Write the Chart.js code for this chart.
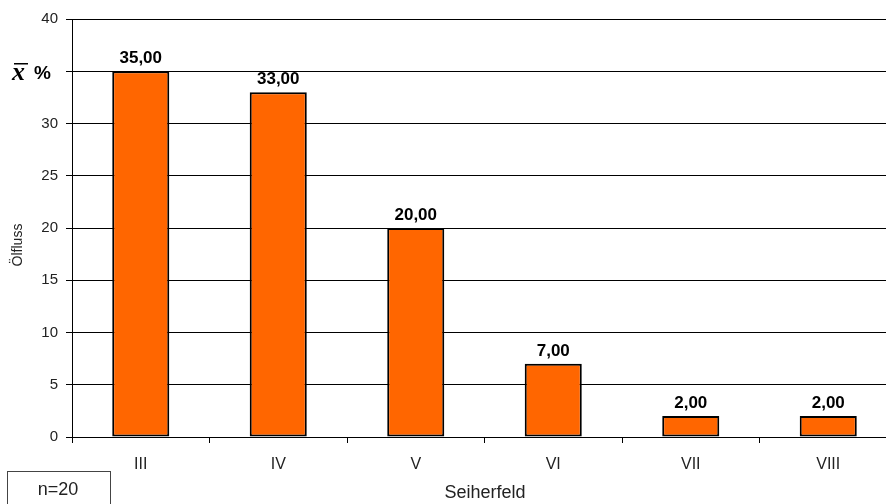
<!DOCTYPE html>
<html lang="de">
<head>
<meta charset="UTF-8">
<title>Ölfluss je Seiherfeld</title>
<script src="https://cdn.jsdelivr.net/npm/chart.js"></script>
<style>
    html, body { margin: 0; padding: 0; background: #fff; overflow: hidden; }
    #wrap { width: 886px; height: 504px; overflow: hidden; }
</style>
</head>
<body>
<div id="wrap"><canvas id="chart" width="898" height="504"></canvas></div>
<script>
// Werte aus der Grafik
const categories = ["III", "IV", "V", "VI", "VII", "VIII"];
const values = [35, 33, 20, 7, 2, 2];
const yTicks = [0, 5, 10, 15, 20, 25, 30, 35, 40];
const yTickLabels = ["0", "5", "10", "15", "20", "25", "30", "", "40"]; // bei 35 steht x-quer %
const sampleNote = "n=20";

const FONT = "'Liberation Sans', Arial, sans-serif";

// Beschriftungen über den Balken, Achsentitel und n-Kasten
const extras = {
    id: "extras",
    afterDatasetsDraw(chart) {
        const ctx = chart.ctx;
        const meta = chart.getDatasetMeta(0);
        ctx.save();
        ctx.fillStyle = "#000";
        ctx.font = "bold 17px " + FONT;
        ctx.textAlign = "center";
        ctx.textBaseline = "alphabetic";
        meta.data.forEach((bar, i) => {
            ctx.fillText(values[i].toFixed(2).replace(".", ","), bar.x, bar.y - 8);
        });

        // x-quer %
        ctx.textAlign = "left";
        ctx.font = "bold italic 26px 'Liberation Serif', serif";
        ctx.fillText("x", 12, 80);
        ctx.fillRect(14, 63, 14, 1.5);
        ctx.font = "bold 19px " + FONT;
        ctx.fillText("%", 34, 79);

        // Ölfluss
        ctx.fillStyle = "#222";
        ctx.font = "14px " + FONT;
        ctx.translate(18, 245);
        ctx.rotate(-Math.PI / 2);
        ctx.textAlign = "center";
        ctx.textBaseline = "middle";
        ctx.fillText("Ölfluss", 0, 0);
        ctx.restore();

        ctx.save();
        ctx.fillStyle = "#222";
        ctx.font = "18px " + FONT;
        ctx.textAlign = "center";
        ctx.textBaseline = "middle";
        ctx.fillText("Seiherfeld", 485, 493);

        // n-Kasten
        ctx.strokeStyle = "#444";
        ctx.lineWidth = 1;
        ctx.strokeRect(7.5, 471.5, 103, 40);
        ctx.fillText(sampleNote, 58, 490);
        ctx.restore();
    }
};

new Chart(document.getElementById("chart"), {
    type: "bar",
    data: {
        labels: categories,
        datasets: [{
            data: values,
            backgroundColor: "#FF6600",
            borderColor: "#000",
            borderWidth: 2,
            borderSkipped: false,
            categoryPercentage: 1,
            barPercentage: 0.415
        }]
    },
    options: {
        responsive: false,
        animation: false,
        devicePixelRatio: 1,
        layout: { padding: { top: 19, right: 1, left: 0, bottom: 0 } },
        plugins: {
            legend: { display: false },
            tooltip: { enabled: false }
        },
        scales: {
            x: {
                offset: true,
                grid: { display: true, drawOnChartArea: false, color: "#000", tickLength: 6, offset: true },
                border: { color: "#000", width: 1 },
                ticks: { color: "#222", font: { family: FONT, size: 16 }, padding: 12 },
                afterFit(scale) { scale.height = 67; }
            },
            y: {
                min: 0,
                max: 40,
                afterBuildTicks(scale) { scale.ticks = yTicks.map(v => ({ value: v })); },
                grid: { color: "#000", tickLength: 6 },
                border: { color: "#000", width: 1 },
                ticks: {
                    color: "#222",
                    font: { family: FONT, size: 15 },
                    padding: 8,
                    callback: (v) => yTickLabels[yTicks.indexOf(v)]
                },
                afterFit(scale) { scale.width = 72; }
            }
        }
    },
    plugins: [extras]
});
</script>
</body>
</html>
